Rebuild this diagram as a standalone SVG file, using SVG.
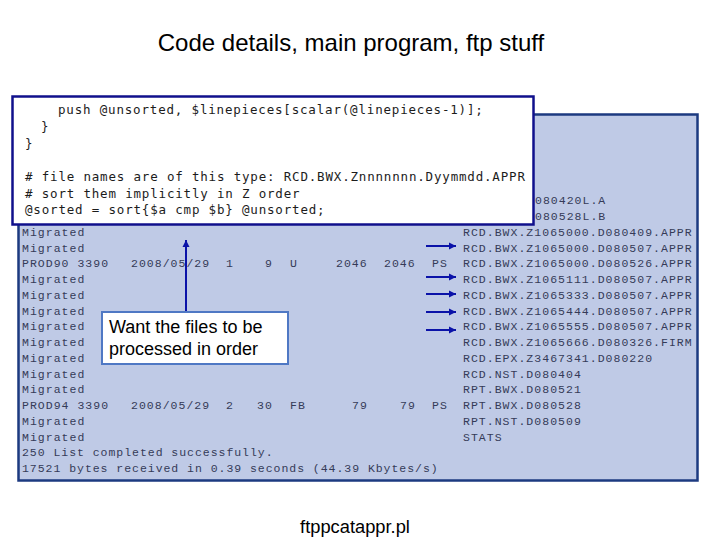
<svg xmlns="http://www.w3.org/2000/svg" width="720" height="540" viewBox="0 0 720 540">
<style>
.h{font-family:"Liberation Sans",Arial,sans-serif;fill:#000}
.t{font-family:"Liberation Mono","DejaVu Sans Mono",monospace;font-size:11.500px;letter-spacing:1.020px;fill:#353b58}
.c{font-family:"DejaVu Sans Mono","Liberation Mono",monospace;font-size:12.500px;letter-spacing:.82px;fill:#1c1c1c}
.a{stroke:#0a12a8;stroke-width:2;fill:none;marker-end:url(#ah)}
</style>
<defs><marker id="ah" markerUnits="userSpaceOnUse" markerWidth="8" markerHeight="8" refX="7" refY="4" orient="auto"><path d="M0 0.5L7 4L0 7.5Z" fill="#0a12a8"/></marker></defs>
<rect width="720" height="540" fill="#fff"/>
<text class="h" x="351" y="51" font-size="24" text-anchor="middle">Code details, main program, ftp stuff</text>
<g id="listing">
<rect x="18.500" y="114.500" width="679" height="366" fill="#bfcae6" stroke="#1c3a80" stroke-width="2.500"/>
<g class="t">
<text x="535" y="204">080420L.A</text>
<text x="535" y="220">080528L.B</text>
<text x="22" y="236">Migrated</text><text x="463" y="236">RCD.BWX.Z1065000.D080409.APPR</text>
<text x="22" y="252">Migrated</text><text x="463" y="252">RCD.BWX.Z1065000.D080507.APPR</text>
<text x="22" y="267">PROD90 3390</text><text x="131" y="267">2008/05/29</text><text x="226" y="267">1</text><text x="265" y="267">9</text><text x="290" y="267">U</text><text x="336" y="267">2046</text><text x="384" y="267">2046</text><text x="432" y="267">PS</text><text x="463" y="267">RCD.BWX.Z1065000.D080526.APPR</text>
<text x="22" y="283">Migrated</text><text x="463" y="283">RCD.BWX.Z1065111.D080507.APPR</text>
<text x="22" y="299">Migrated</text><text x="463" y="299">RCD.BWX.Z1065333.D080507.APPR</text>
<text x="22" y="315">Migrated</text><text x="463" y="315">RCD.BWX.Z1065444.D080507.APPR</text>
<text x="22" y="330">Migrated</text><text x="463" y="330">RCD.BWX.Z1065555.D080507.APPR</text>
<text x="22" y="346">Migrated</text><text x="463" y="346">RCD.BWX.Z1065666.D080326.FIRM</text>
<text x="22" y="362">Migrated</text><text x="463" y="362">RCD.EPX.Z3467341.D080220</text>
<text x="22" y="378">Migrated</text><text x="463" y="378">RCD.NST.D080404</text>
<text x="22" y="393">Migrated</text><text x="463" y="393">RPT.BWX.D080521</text>
<text x="22" y="409">PROD94 3390</text><text x="131" y="409">2008/05/29</text><text x="226" y="409">2</text><text x="257" y="409">30</text><text x="290" y="409">FB</text><text x="352" y="409">79</text><text x="400" y="409">79</text><text x="432" y="409">PS</text><text x="463" y="409">RPT.BWX.D080528</text>
<text x="22" y="425">Migrated</text><text x="463" y="425">RPT.NST.D080509</text>
<text x="22" y="441">Migrated</text><text x="463" y="441">STATS</text>
<text x="22" y="456" letter-spacing=".96">250 List completed successfully.</text>
<text x="22" y="472" letter-spacing=".96">17521 bytes received in 0.39 seconds (44.39 Kbytes/s)</text>
</g>
</g>
<g id="connectors">
<path class="a" d="M186 312V240"/>
<path class="a" d="M426 246H456"/>
<path class="a" d="M426 277H456"/>
<path class="a" d="M426 294H456"/>
<path class="a" d="M426 312H456"/>
<path class="a" d="M426 330H456"/>
</g>
<g id="code">
<rect x="12.500" y="96.500" width="521" height="128" fill="#fff" stroke="#10108c" stroke-width="2.500"/>
<g class="c">
<text x="58" y="114">push @unsorted, $linepieces[scalar(@linepieces-1)];</text>
<text x="41" y="131">}</text>
<text x="25" y="148">}</text>
<text x="25" y="181"># file names are of this type: RCD.BWX.Znnnnnnn.Dyymmdd.APPR</text>
<text x="25" y="198"># sort them implicitly in Z order</text>
<text x="25" y="214">@sorted = sort{$a cmp $b} @unsorted;</text>
</g>
</g>
<g id="callout">
<rect x="102" y="312" width="186" height="52" fill="#fff" stroke="#4f78c4" stroke-width="2"/>
<text class="h" x="109" y="333" font-size="18">Want the files to be</text>
<text class="h" x="109" y="355" font-size="18">processed in order</text>
</g>
<text class="h" x="355" y="533" font-size="18.300" text-anchor="middle">ftppcatappr.pl</text>
</svg>
